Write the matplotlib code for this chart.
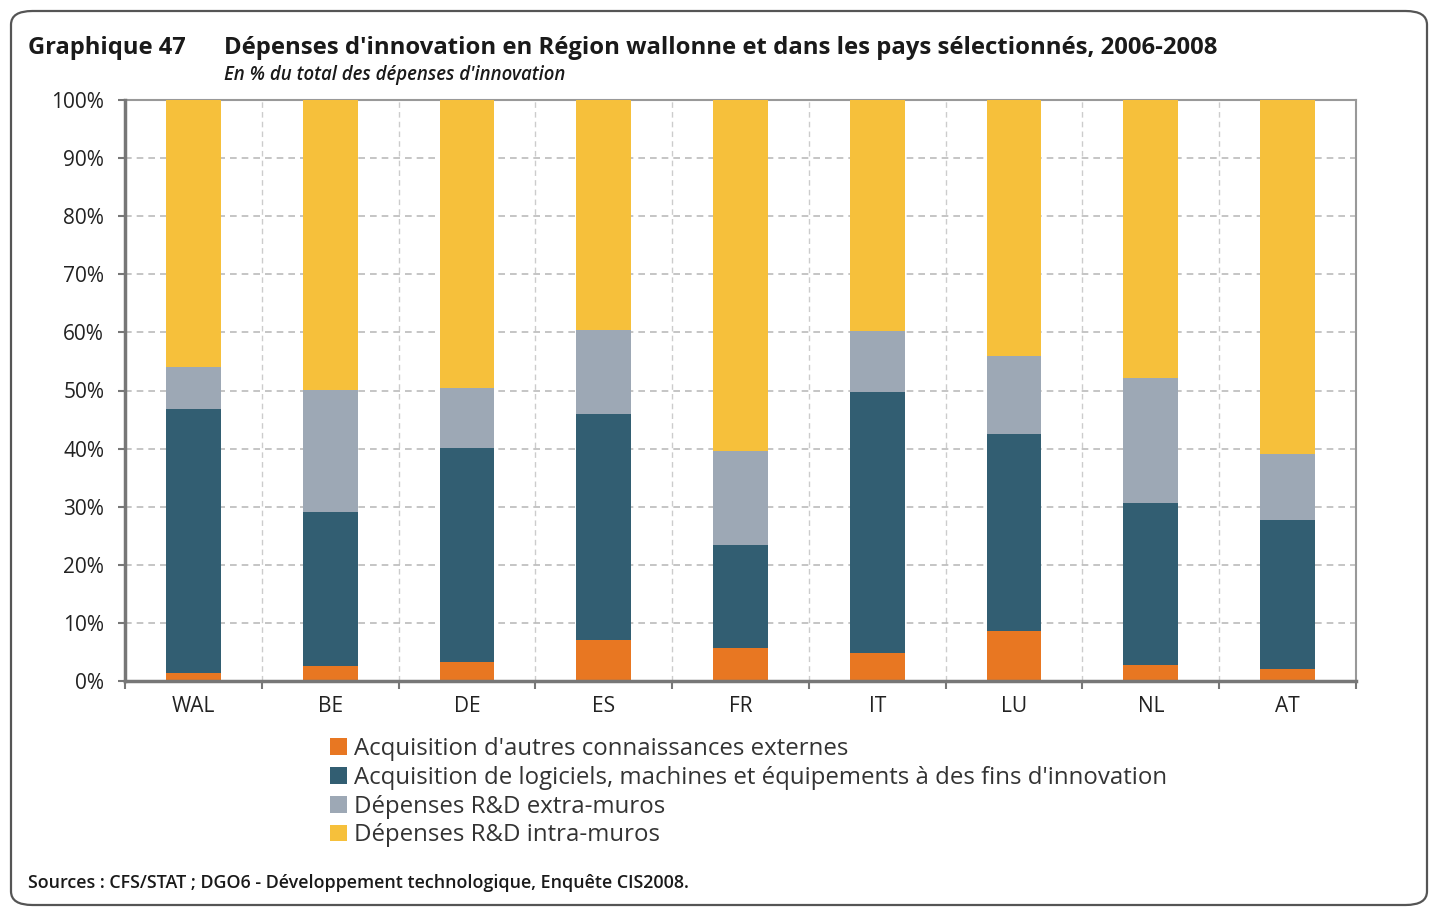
import matplotlib
matplotlib.use("Agg")
import matplotlib.pyplot as plt
import numpy as np
from matplotlib.patches import FancyBboxPatch, Patch

categories = ["WAL", "BE", "DE", "ES", "FR", "IT", "LU", "NL", "AT"]
autres_connaissances = [1.4, 2.6, 3.3, 7.0, 5.7, 4.8, 8.6, 2.8, 2.1]
logiciels_machines = [45.4, 26.5, 36.8, 38.9, 17.7, 44.9, 33.9, 27.8, 25.6]
rd_extra_muros = [7.2, 21.0, 10.4, 14.5, 16.2, 10.6, 13.5, 21.5, 11.3]
rd_intra_muros = [46.0, 49.9, 49.5, 39.6, 60.4, 39.7, 44.0, 47.9, 61.0]
series_labels = [
    "Acquisition d'autres connaissances externes",
    "Acquisition de logiciels, machines et équipements à des fins d'innovation",
    "Dépenses R&D extra-muros",
    "Dépenses R&D intra-muros",
]
y_ticks = [0, 10, 20, 30, 40, 50, 60, 70, 80, 90, 100]
y_tick_labels = [f"{v}%" for v in y_ticks]

colors = ["#E87722", "#325E72", "#9DA8B5", "#F6C03B"]
FONT = "Open Sans"
W, H = 1429, 911

fig = plt.figure(figsize=(W / 100, H / 100), dpi=100)
renderer = fig.canvas.get_renderer()


def fit_text(x, y, s, target_w, **kw):
    t = fig.text(x / W, 1 - y / H, s, fontsize=10, **kw)
    w = t.get_window_extent(renderer).width
    t.set_fontsize(10 * target_w / w)
    return t


def fit_size(s, target_w, **kw):
    t = fig.text(0, 0, s, fontsize=10, **kw)
    w = t.get_window_extent(renderer).width
    t.remove()
    return 10 * target_w / w


# Frame
fig.patches.append(FancyBboxPatch((11 / W, 1 - 905 / H), (1427 - 11) / W, (905 - 11) / H,
                                  boxstyle="round,pad=0,rounding_size=0.015",
                                  transform=fig.transFigure, fill=False,
                                  edgecolor="#555555", linewidth=1.6, zorder=0))

# Titles
fit_text(28, 48, "Graphique 47", 158, fontweight="bold", family=FONT, color="#1a1a1a", va="center")
fit_text(224, 48, "Dépenses d'innovation en Région wallonne et dans les pays sélectionnés, 2006-2008",
         993, fontweight="bold", family=FONT, color="#1a1a1a", va="center")
fit_text(224, 75, "En % du total des dépenses d'innovation", 341, fontstyle="italic",
         fontweight="semibold", family=FONT, color="#1a1a1a", va="center")
fit_text(28, 883, "Sources : CFS/STAT ; DGO6 - Développement technologique, Enquête CIS2008.",
         662, fontweight="semibold", family=FONT, color="#1a1a1a", va="center")

ax = fig.add_axes([125 / W, 1 - 681 / H, (1356 - 125) / W, (681 - 100) / H])
x = np.arange(len(categories))
series = [autres_connaissances, logiciels_machines, rd_extra_muros, rd_intra_muros]
bottom = np.zeros(len(categories))
for vals, c, lab in zip(series, colors, series_labels):
    ax.bar(x, vals, bottom=bottom, width=0.40, color=c, label=lab, zorder=3)
    bottom += np.array(vals)

ax.set_xlim(-0.5, len(categories) - 0.5)
ax.set_ylim(0, 100)
ax.set_yticks(y_ticks)
ax.set_yticklabels(y_tick_labels, family=FONT, fontsize=15, color="#222222")
ax.set_xticks(x)
ax.set_xticklabels(categories, family=FONT, fontsize=15, color="#222222")
ax.tick_params(axis="x", length=0, pad=11)
ax.set_xticks(np.arange(-0.5, len(categories)), minor=True)
ax.tick_params(axis="x", which="minor", length=6, width=1.5, color="#777777")
ax.tick_params(axis="y", length=5, width=1.5, color="#777777", pad=10)
ax.grid(axis="y", which="major", linestyle=(0, (4, 3)), color="#bbbbbb", linewidth=1.2, zorder=1)
ax.grid(axis="x", which="minor", linestyle=(0, (4, 3)), color="#cccccc", linewidth=1.0, zorder=1)
for side in ["top", "right"]:
    ax.spines[side].set_color("#999999")
    ax.spines[side].set_linewidth(1.5)
for side in ["left", "bottom"]:
    ax.spines[side].set_color("#777777")
    ax.spines[side].set_linewidth(2.5)
    ax.spines[side].set_zorder(4)

handles = [Patch(facecolor=c, edgecolor="none") for c in colors]
leg_fs = fit_size(series_labels[1], 812, family=FONT)
fig.legend(handles, series_labels, loc="upper left",
           bbox_to_anchor=(318 / W, 1 - 725 / H), frameon=False,
           prop={"family": FONT, "size": leg_fs}, handlelength=0.7, handleheight=0.7,
           handletextpad=0.3, labelspacing=0.2, labelcolor="#333333", borderpad=0)

fig.savefig("out.png", dpi=100)
